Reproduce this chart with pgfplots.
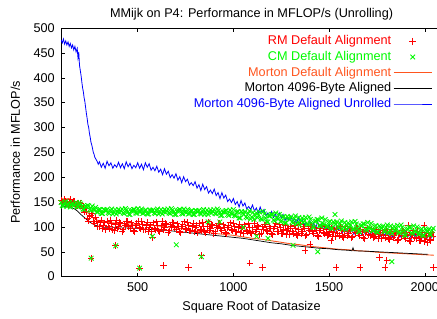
\documentclass[border=0pt]{standalone}
\usepackage{pgfplots}
\pgfplotsset{compat=1.18}
\usepackage{fontspec}
\setmainfont{Liberation Sans}
\usetikzlibrary{calc}
\definecolor{mred}{RGB}{255,0,0}
\definecolor{mgreen}{RGB}{0,250,0}
\definecolor{morange}{RGB}{255,85,30}
\definecolor{mblue}{RGB}{0,0,255}
\begin{document}
\fontsize{12.7}{15}\selectfont
\begin{tikzpicture}
\begin{axis}[
  scale only axis, width=380bp, height=248bp,
  xmin=100, xmax=2090, ymin=0, ymax=500,
  xtick={500,1000,1500,2000}, ytick={0,50,...,500},
  tick align=inside, major tick length=4bp,
  tick style={black, line width=0.5pt},
  axis line style={line width=0.6pt},
  /pgf/number format/assume math mode=true,
  /pgf/number format/1000 sep={},
  every axis/.append style={font=\fontsize{12.7}{15}\selectfont},
  ticklabel style={font=\fontsize{12.7}{15}\selectfont},
  yticklabel style={xshift=-2bp},
  xticklabel style={yshift=-2bp},
  title={MMijk on P4: Performance in MFLOP/s (Unrolling)},
  title style={yshift=-2bp},
  xlabel={Square Root of Datasize},
  ylabel={Performance in MFLOP/s},
  xlabel style={yshift=-1bp},
  ylabel style={yshift=5bp},
  legend style={at={(axis cs:2040,489)}, anchor=north east, draw=none, fill=none,
    font=\fontsize{12.7}{15}\selectfont, inner sep=0pt, row sep=0.6bp},
  legend cell align=right,
  legend plot pos=right,
  legend image code/.code={\draw[mark repeat=2,mark phase=2,#1] plot coordinates {(0cm,0cm) (0.67cm,0cm) (1.34cm,0cm)};},
]
\coordinate (O) at (rel axis cs:0,0);
\coordinate (T) at (rel axis cs:0,1);
\coordinate (R) at (axis cs:2064,0);

% RM Default Alignment
\addplot[only marks, mark=+, mark size=3.3bp, color=mred, mark options={line width=0.85pt}] coordinates {
(100,154)(112,147)(124,151)(136,144)(148,155)(160,148)(172,151)(184,142)(196,144)(208,144)
(220,130)(232,131)(244,112)(256,124)(268,111)(280,120)(292,101)(304,108)(316,96)(328,108)
(340,112)(352,97)(364,106)(376,93)(388,113)(400,100)(412,107)(424,94)(436,102)(448,111)
(460,96)(472,103)(484,90)(496,107)(508,98)(520,111)(532,94)(544,102)(556,91)(568,104)
(580,108)(592,94)(604,103)(616,90)(628,111)(640,98)(652,105)(664,92)(676,100)(688,108)
(700,95)(712,101)(724,88)(736,105)(748,96)(760,109)(772,92)(784,100)(796,90)(808,103)
(820,107)(832,93)(844,101)(856,88)(868,110)(880,96)(892,103)(904,90)(916,98)(928,107)
(940,92)(952,99)(964,86)(976,103)(988,94)(1000,107)(1012,90)(1024,98)(1036,88)(1048,100)
(1060,104)(1072,90)(1084,99)(1096,86)(1108,107)(1120,94)(1132,100)(1144,87)(1156,95)(1168,104)
(1180,90)(1192,97)(1204,84)(1216,101)(1228,91)(1240,104)(1252,87)(1264,95)(1276,85)(1288,97)
(1300,101)(1312,87)(1324,96)(1336,83)(1348,104)(1360,90)(1372,97)(1384,84)(1396,92)(1408,101)
(1420,86)(1432,93)(1444,80)(1456,97)(1468,88)(1480,100)(1492,83)(1504,91)(1516,81)(1528,94)
(1540,97)(1552,83)(1564,92)(1576,79)(1588,100)(1600,87)(1612,93)(1624,80)(1636,88)(1648,97)
(1660,83)(1672,90)(1684,76)(1696,93)(1708,84)(1720,96)(1732,79)(1744,87)(1756,77)(1768,89)
(1780,93)(1792,79)(1804,88)(1816,75)(1828,95)(1840,82)(1852,88)(1864,75)(1876,83)(1888,92)
(1900,77)(1912,84)(1924,71)(1936,87)(1948,78)(1960,91)(1972,73)(1984,81)(1996,71)(2008,83)
(2020,87)(2032,73)(2044,81)
(106,148)(118,155)(130,146)(142,150)(154,146)(166,152)(178,143)(190,148)(202,148)(214,138)
(226,138)(238,117)(250,121)(262,127)(274,107)(286,112)(298,100)(310,114)(322,103)(334,94)
(346,100)(358,113)(370,95)(382,105)(394,96)(406,109)(418,91)(430,106)(442,111)(454,100)
(466,108)(478,92)(490,102)(502,112)(514,96)(526,104)(538,94)(550,109)(562,99)(574,90)
(586,96)(598,110)(610,92)(622,102)(634,94)(646,107)(658,89)(670,104)(682,109)(694,98)
(706,106)(718,91)(730,100)(742,110)(754,94)(766,102)(778,92)(790,107)(802,98)(814,89)
(826,95)(838,109)(850,91)(862,101)(874,93)(886,105)(898,87)(910,102)(922,107)(934,96)
(946,104)(958,89)(970,98)(982,108)(994,92)(1006,100)(1018,90)(1030,105)(1042,96)(1054,87)
(1066,93)(1078,106)(1090,88)(1102,98)(1114,90)(1126,103)(1138,85)(1150,100)(1162,104)(1174,93)
(1186,101)(1198,86)(1210,96)(1222,106)(1234,90)(1246,98)(1258,87)(1270,102)(1282,93)(1294,84)
(1306,90)(1318,103)(1330,85)(1342,95)(1354,87)(1366,100)(1378,82)(1390,96)(1402,101)(1414,90)
(1426,98)(1438,83)(1450,92)(1462,102)(1474,86)(1486,94)(1498,84)(1510,98)(1522,89)(1534,80)
(1546,86)(1558,100)(1570,81)(1582,91)(1594,83)(1606,96)(1618,78)(1630,93)(1642,97)(1654,86)
(1666,94)(1678,79)(1690,88)(1702,98)(1714,82)(1726,90)(1738,80)(1750,94)(1762,85)(1774,76)
(1786,82)(1798,95)(1810,77)(1822,87)(1834,78)(1846,91)(1858,73)(1870,87)(1882,92)(1894,81)
(1906,88)(1918,73)(1930,83)(1942,92)(1954,76)(1966,84)(1978,73)(1990,88)(2002,79)(2014,69)
(2026,75)(2038,89)
(257,37)(385,62)(510,17)(577,78)(636,22)(767,18)(833,42)(1086,27)(1153,18)(1374,52)
(1400,65)(1510,72)(1537,18)(1662,18)(1762,38)(1802,32)(1793,18)(1914,103)(1997,103)(2045,18)
};
\addlegendentry{\textcolor{mred}{RM Default Alignment}}

% CM Default Alignment
\addplot[only marks, mark=x, mark size=3.3bp, color=mgreen, mark options={line width=0.85pt}] coordinates {
(100,149)(112,142)(124,151)(136,143)(148,140)(160,148)(172,145)(184,141)(196,149)(208,141)
(220,135)(232,141)(244,142)(256,133)(268,135)(280,139)(292,130)(304,135)(316,127)(328,134)
(340,135)(352,127)(364,136)(376,129)(388,126)(400,135)(412,132)(424,128)(436,137)(448,130)
(460,125)(472,133)(484,135)(496,127)(508,131)(520,136)(532,128)(544,134)(556,126)(568,133)
(580,134)(592,127)(604,136)(616,129)(628,126)(640,135)(652,132)(664,128)(676,137)(688,130)
(700,125)(712,133)(724,134)(736,126)(748,130)(760,135)(772,127)(784,133)(796,125)(808,132)
(820,133)(832,126)(844,135)(856,128)(868,125)(880,134)(892,131)(904,127)(916,136)(928,128)
(940,123)(952,130)(964,133)(976,123)(988,127)(1000,135)(1012,122)(1024,131)(1036,118)(1048,128)
(1060,130)(1072,118)(1084,132)(1096,120)(1108,115)(1120,128)(1132,124)(1144,116)(1156,131)(1168,118)
(1180,110)(1192,122)(1204,125)(1216,112)(1228,118)(1240,125)(1252,112)(1264,121)(1276,108)(1288,118)
(1300,120)(1312,108)(1324,122)(1336,110)(1348,104)(1360,118)(1372,113)(1384,106)(1396,120)(1408,108)
(1420,99)(1432,112)(1444,114)(1456,102)(1468,107)(1480,115)(1492,101)(1504,111)(1516,97)(1528,108)
(1540,110)(1552,98)(1564,112)(1576,100)(1588,95)(1600,108)(1612,104)(1624,96)(1636,111)(1648,98)
(1660,90)(1672,103)(1684,106)(1696,93)(1708,99)(1720,107)(1732,93)(1744,103)(1756,89)(1768,100)
(1780,101)(1792,90)(1804,104)(1816,93)(1828,87)(1840,101)(1852,97)(1864,89)(1876,104)(1888,92)
(1900,83)(1912,96)(1924,99)(1936,86)(1948,92)(1960,100)(1972,86)(1984,96)(1996,83)(2008,94)
(2020,95)(2032,84)(2044,97)
(106,143)(118,148)(130,141)(142,149)(154,145)(166,142)(178,149)(190,140)(202,146)(214,136)
(226,141)(238,143)(250,135)(262,142)(274,134)(286,130)(298,135)(310,127)(322,135)(334,132)
(346,129)(358,133)(370,126)(382,135)(394,131)(406,129)(418,136)(430,127)(442,134)(454,125)
(466,132)(478,135)(490,128)(502,137)(514,130)(526,127)(538,133)(550,126)(562,134)(574,131)
(586,128)(598,133)(610,126)(622,135)(634,131)(646,129)(658,136)(670,127)(682,134)(694,125)
(706,132)(718,135)(730,127)(742,136)(754,129)(766,126)(778,132)(790,125)(802,133)(814,130)
(826,127)(838,132)(850,125)(862,134)(874,130)(886,128)(898,135)(910,126)(922,133)(934,123)
(946,130)(958,132)(970,125)(982,134)(994,126)(1006,123)(1018,130)(1030,118)(1042,131)(1054,125)
(1066,120)(1078,127)(1090,116)(1102,129)(1114,123)(1126,119)(1138,130)(1150,115)(1162,126)(1174,110)
(1186,122)(1198,125)(1210,114)(1222,128)(1234,116)(1246,111)(1258,120)(1270,108)(1282,121)(1294,115)
(1306,110)(1318,117)(1330,106)(1342,119)(1354,112)(1366,109)(1378,119)(1390,105)(1402,115)(1414,100)
(1426,111)(1438,115)(1450,103)(1462,118)(1474,105)(1486,101)(1498,109)(1510,98)(1522,110)(1534,105)
(1546,100)(1558,107)(1570,96)(1582,109)(1594,103)(1606,99)(1618,110)(1630,95)(1642,106)(1654,91)
(1666,102)(1678,106)(1690,95)(1702,109)(1714,97)(1726,93)(1738,101)(1750,90)(1762,102)(1774,97)
(1786,92)(1798,99)(1810,88)(1822,102)(1834,95)(1846,92)(1858,103)(1870,88)(1882,99)(1894,84)
(1906,95)(1918,99)(1930,88)(1942,102)(1954,90)(1966,86)(1978,94)(1990,83)(2002,96)(2014,91)
(2026,85)(2038,93)
(257,37)(385,62)(510,17)(577,81)(702,64)(833,40)(868,110)(929,110)(1051,99)(1121,81)
(1181,77)(1312,63)(1441,50)(1531,125)(1828,30)
};
\addlegendentry{\textcolor{mgreen}{CM Default Alignment}}

% Morton Default Alignment
\addplot[color=morange, line width=0.9pt] coordinates {
(100,157)(120,156)(140,157)(160,154)(180,150)(200,146)(220,137)(240,128)(260,120)(280,115)
(300,112)(350,109)(400,107)(450,106)(500,105)(550,104)(600,102)(650,100)(700,98)(750,95)
(800,92)(850,90)(900,87)(950,85)(1000,83)(1050,80)(1100,77)(1150,75)(1200,72)(1250,69)
(1300,66)(1350,64)(1400,61)(1450,59)(1500,57)(1550,55)(1600,54)(1650,52)(1700,51)(1750,49)
(1800,48)(1850,47)(1900,46)(1950,45)(2000,44)(2048,43)
};
\addlegendentry{\textcolor{morange}{Morton Default Alignment}}

% Morton 4096-Byte Aligned
\addplot[color=black, line width=0.7pt] coordinates {
(100,143)(115,141)(130,142)(140,139)(150,138)(160,138)(170,136)(185,132)(200,126)(215,121)
(230,116)(245,111)(260,107)(280,103)(300,101)(330,99)(360,100)(400,98)(450,98)(500,97)
(550,95)(600,94)(650,93)(700,91)(750,89)(800,87)(850,85)(900,83)(950,81)(1000,79)
(1050,77)(1100,74)(1150,71)(1200,68)(1250,66)(1300,63)(1350,61)(1400,59)(1450,57)(1500,56)
(1550,54)(1600,53)(1620,52)(1625,58)(1630,52)(1700,51)(1750,50)(1800,49)(1850,48)(1900,47)
(1950,46)(2000,45)(2015,45)
};
\addlegendentry{Morton 4096-Byte Aligned}

% Morton 4096-Byte Aligned Unrolled
\addplot[color=mblue, line width=0.8pt] coordinates {
(100,476)(106,470)(112,478)(118,468)(124,474)(130,466)(136,472)(142,463)(148,469)(154,460)
(160,466)(166,456)(172,463)(178,452)(184,459)(188,440)(192,452)(196,425)(200,415)(204,405)
(208,392)(212,380)(216,372)(220,360)(224,352)(228,340)(232,328)(236,318)(240,306)(244,300)
(248,288)(252,280)(256,270)(260,265)(264,258)(268,250)(272,246)(276,240)(282,236)(288,232)
(294,226)
(300,231)(310,220)(320,228)(330,218)(340,232)(350,223)(360,229)(370,218)(380,225)(390,220)
(400,230)(410,219)(420,227)(430,217)(440,231)(450,221)(460,228)(470,217)(480,224)(490,219)
(500,229)(510,218)(520,226)(530,215)(540,229)(550,220)(560,227)(570,214)(580,220)(590,213)
(600,222)(610,210)(620,216)(630,205)(640,217)(650,206)(660,212)(670,199)(680,205)(690,198)
(700,207)(710,194)(720,201)(730,189)(740,201)(750,191)(760,196)(770,184)(780,189)(790,183)
(800,191)(810,178)(820,185)(830,173)(840,186)(850,175)(860,181)(870,168)(880,174)(890,167)
(900,176)(910,163)(920,169)(930,157)(940,169)(950,158)(960,164)(970,151)(980,156)(990,149)
(1000,157)(1010,145)(1020,151)(1030,140)(1040,153)(1050,142)(1060,148)(1070,136)(1080,141)(1090,135)
(1100,144)(1110,132)(1120,138)(1130,127)(1140,140)(1150,129)(1160,135)(1170,123)(1180,128)(1190,122)
(1200,131)(1210,119)(1220,126)(1230,115)(1240,128)(1250,118)(1260,125)(1270,113)(1280,119)(1290,113)
(1300,122)(1310,110)(1320,117)(1330,106)(1340,119)(1350,109)(1360,115)(1370,103)(1380,109)(1390,103)
(1400,112)(1410,100)(1420,108)(1430,97)(1440,110)(1450,101)(1460,107)(1470,95)(1480,101)(1490,96)
(1500,105)(1510,93)(1520,101)(1530,90)(1540,104)(1550,94)(1560,100)(1570,89)(1580,95)(1590,90)
(1600,99)(1610,88)(1620,95)(1630,85)(1640,99)(1650,89)(1660,96)(1670,84)(1680,91)(1690,85)
(1700,95)(1710,84)(1720,91)(1730,81)(1740,95)(1750,86)(1760,92)(1770,81)(1780,88)(1790,83)
(1800,93)(1810,81)(1820,89)(1830,79)(1840,93)(1850,83)(1860,90)(1870,79)(1880,85)(1890,80)
(1900,90)(1910,79)(1920,86)(1930,76)(1940,90)(1950,81)(1960,87)(1970,76)(1980,83)(1990,78)
(2000,88)(2010,76)(2020,84)(2030,74)(2040,87)(2048,78)
};
\addlegendentry{\textcolor{mblue}{Morton 4096-Byte Aligned Unrolled}}
\end{axis}
\pgfresetboundingbox
\path[use as bounding box] ($(O)+(-61bp,-42bp)$) rectangle ($(R|-T)+(0,28bp)$);
\end{tikzpicture}
\end{document}
